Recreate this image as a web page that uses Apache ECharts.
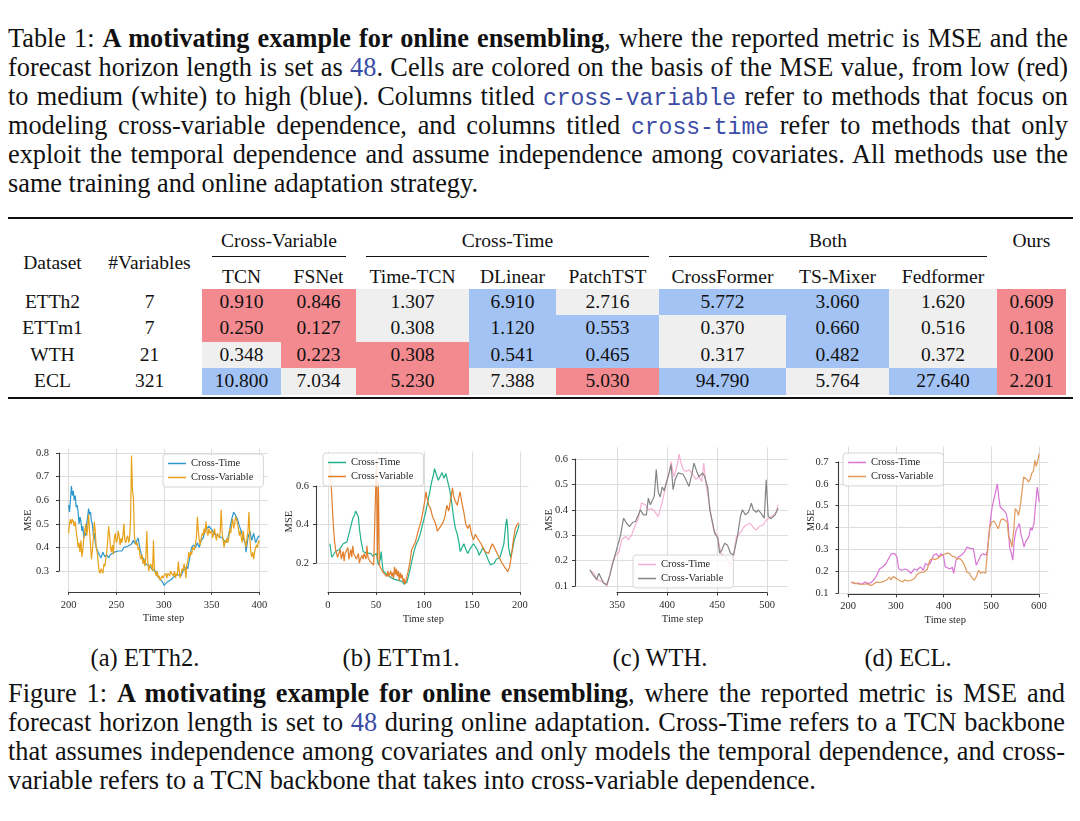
<!DOCTYPE html>
<html>
<head>
<meta charset="utf-8">
<script src="https://cdn.jsdelivr.net/npm/echarts@6.0.0/dist/echarts.min.js"></script>
<style>
  html, body { margin:0; padding:0; background:#fff; }
  body { position:relative; width:1080px; height:821px; overflow:hidden;
         font-family:'Liberation Serif','Times New Roman',serif; color:#111; }
  .cap { position:absolute; left:8px; font-size:26.3px; line-height:29px; }
  .cap div { text-align:justify; text-align-last:justify; height:29px; }
  .cap div.last { text-align-last:left; }
  .tt { font-family:'Liberation Mono','DejaVu Sans Mono',monospace; font-size:23px; color:#3a4ca5; }
  .ref { color:#3a4ca5; }
  .abs { position:absolute; white-space:nowrap; }
  .chart { position:absolute; }
  #table { font-size:19.5px; }
</style>
</head>
<body>
<div class="cap" style="top:24px;width:1060px">
  <div>Table 1: <b>A motivating example for online ensembling</b>, where the reported metric is MSE and the</div>
  <div>forecast horizon length is set as <span class="ref">48</span>. Cells are colored on the basis of the MSE value, from low (red)</div>
  <div>to medium (white) to high (blue). Columns titled <span class="tt">cross-variable</span> refer to methods that focus on</div>
  <div>modeling cross-variable dependence, and columns titled <span class="tt">cross-time</span> refer to methods that only</div>
  <div>exploit the temporal dependence and assume independence among covariates. All methods use the</div>
  <div class="last">same training and online adaptation strategy.</div>
</div>

<div id="table"></div>

<div id="chartA" class="chart"></div>
<div id="chartB" class="chart"></div>
<div id="chartC" class="chart"></div>
<div id="chartD" class="chart"></div>

<div id="subs"></div>

<div class="cap" style="top:678.5px;width:1057px">
  <div>Figure 1: <b>A motivating example for online ensembling</b>, where the reported metric is MSE and</div>
  <div>forecast horizon length is set to <span class="ref">48</span> during online adaptation. Cross-Time refers to a TCN backbone</div>
  <div>that assumes independence among covariates and only models the temporal dependence, and cross-</div>
  <div class="last">variable refers to a TCN backbone that takes into cross-variable dependence.</div>
</div>

<script>
// ---------------- TABLE DATA ----------------
const datasets = ['ETTh2', 'ETTm1', 'WTH', 'ECL'];
const numVariables = [7, 7, 21, 321];
const methodGroups = ['Cross-Variable', 'Cross-Time', 'Both'];
const groupSpans = [2, 3, 3];
const methods = ['TCN', 'FSNet', 'Time-TCN', 'DLinear', 'PatchTST', 'CrossFormer', 'TS-Mixer', 'Fedformer', 'Ours'];
const mseETTh2 = [0.910, 0.846, 1.307, 6.910, 2.716, 5.772, 3.060, 1.620, 0.609];
const mseETTm1 = [0.250, 0.127, 0.308, 1.120, 0.553, 0.370, 0.660, 0.516, 0.108];
const mseWTH   = [0.348, 0.223, 0.308, 0.541, 0.465, 0.317, 0.482, 0.372, 0.200];
const mseECL   = [10.800, 7.034, 5.230, 7.388, 5.030, 94.790, 5.764, 27.640, 2.201];
const levelETTh2 = ['low', 'low', 'mid', 'high', 'mid', 'high', 'high', 'mid', 'low'];
const levelETTm1 = ['low', 'low', 'mid', 'high', 'high', 'mid', 'high', 'mid', 'low'];
const levelWTH   = ['mid', 'low', 'low', 'high', 'high', 'mid', 'high', 'mid', 'low'];
const levelECL   = ['high', 'mid', 'low', 'mid', 'low', 'high', 'mid', 'high', 'low'];

// ---------------- CHART DATA ----------------
const subCaptions = ['(a) ETTh2.', '(b) ETTm1.', '(c) WTH.', '(d) ECL.'];
const seriesNames = ['Cross-Time', 'Cross-Variable'];

const etth2CrossTime = [[200,0.58],[201,0.55],[202,0.60],[203,0.66],[204,0.62],[205,0.64],[206,0.60],[207,0.62],[208,0.57],[209,0.58],[210,0.55],[211,0.50],[212,0.53],[213,0.51],[214,0.47],[215,0.49],[216,0.44],[217,0.46],[218,0.45],[219,0.50],[220,0.53],[221,0.565],[222,0.54],[223,0.55],[224,0.51],[225,0.50],[226,0.45],[227,0.46],[228,0.42],[229,0.40],[230,0.39],[232,0.37],[234,0.355],[236,0.38],[238,0.36],[240,0.37],[242,0.355],[244,0.37],[246,0.365],[248,0.38],[250,0.375],[252,0.385],[254,0.39],[256,0.385],[258,0.40],[260,0.40],[262,0.405],[264,0.41],[266,0.415],[268,0.43],[270,0.415],[272,0.41],[273,0.44],[275,0.39],[277,0.36],[279,0.35],[281,0.33],[283,0.325],[285,0.32],[287,0.31],[289,0.305],[291,0.30],[293,0.28],[295,0.27],[297,0.26],[299,0.25],[300,0.24],[302,0.245],[304,0.255],[306,0.25],[308,0.265],[310,0.275],[312,0.28],[314,0.285],[316,0.29],[318,0.28],[320,0.30],[322,0.31],[324,0.32],[325,0.31],[327,0.36],[329,0.40],[331,0.41],[333,0.40],[335,0.42],[337,0.40],[339,0.43],[341,0.44],[343,0.47],[345,0.48],[347,0.49],[349,0.485],[351,0.47],[353,0.455],[355,0.46],[357,0.45],[359,0.445],[361,0.44],[363,0.43],[365,0.42],[367,0.44],[369,0.48],[371,0.52],[373,0.55],[375,0.555],[377,0.52],[379,0.49],[381,0.47],[383,0.44],[385,0.42],[386,0.38],[388,0.44],[390,0.47],[392,0.43],[394,0.46],[396,0.42],[398,0.44],[400,0.45]];
const etth2CrossVariable = [[200,0.46],[201,0.50],[202,0.52],[203,0.50],[204,0.52],[205,0.51],[206,0.49],[207,0.51],[208,0.47],[209,0.44],[210,0.40],[211,0.42],[212,0.38],[213,0.43],[214,0.36],[215,0.39],[216,0.44],[217,0.47],[218,0.50],[219,0.45],[220,0.48],[221,0.54],[222,0.47],[223,0.41],[224,0.35],[225,0.39],[226,0.44],[227,0.51],[228,0.47],[229,0.40],[230,0.38],[231,0.34],[232,0.30],[233,0.29],[234,0.31],[235,0.30],[236,0.29],[237,0.33],[238,0.32],[239,0.35],[240,0.38],[241,0.43],[242,0.49],[243,0.45],[244,0.40],[245,0.38],[246,0.41],[247,0.37],[248,0.44],[249,0.46],[250,0.42],[251,0.43],[252,0.47],[253,0.45],[254,0.41],[255,0.44],[256,0.42],[257,0.45],[258,0.50],[259,0.43],[260,0.42],[261,0.44],[262,0.45],[263,0.42],[264,0.44],[265,0.52],[266,0.79],[267,0.64],[268,0.61],[269,0.45],[270,0.42],[271,0.41],[272,0.42],[273,0.39],[274,0.40],[275,0.36],[276,0.35],[277,0.37],[278,0.33],[279,0.35],[280,0.32],[281,0.36],[282,0.47],[283,0.34],[284,0.30],[285,0.32],[286,0.33],[287,0.32],[288,0.30],[289,0.43],[290,0.30],[291,0.29],[292,0.28],[293,0.30],[294,0.27],[295,0.28],[296,0.26],[297,0.27],[298,0.28],[299,0.27],[300,0.28],[302,0.29],[303,0.27],[304,0.29],[306,0.28],[307,0.30],[308,0.29],[310,0.28],[311,0.30],[312,0.27],[313,0.29],[314,0.28],[315,0.34],[316,0.30],[317,0.27],[318,0.29],[319,0.31],[320,0.30],[321,0.33],[322,0.31],[323,0.27],[324,0.33],[325,0.34],[326,0.38],[327,0.36],[328,0.38],[329,0.37],[330,0.40],[332,0.39],[333,0.42],[334,0.44],[335,0.53],[336,0.47],[337,0.43],[338,0.41],[339,0.44],[340,0.46],[341,0.45],[342,0.48],[343,0.46],[344,0.51],[345,0.47],[346,0.45],[347,0.48],[348,0.46],[350,0.47],[351,0.44],[352,0.46],[353,0.48],[354,0.45],[355,0.43],[356,0.46],[357,0.45],[358,0.44],[359,0.47],[360,0.56],[361,0.46],[362,0.43],[363,0.40],[364,0.43],[365,0.42],[366,0.44],[367,0.42],[368,0.44],[369,0.48],[370,0.46],[371,0.50],[372,0.52],[373,0.48],[374,0.50],[375,0.53],[376,0.52],[377,0.50],[378,0.48],[379,0.45],[380,0.47],[381,0.44],[382,0.42],[383,0.47],[384,0.44],[385,0.42],[386,0.40],[387,0.44],[388,0.47],[389,0.55],[390,0.44],[391,0.38],[392,0.36],[393,0.38],[394,0.35],[395,0.38],[396,0.40],[397,0.41],[398,0.40],[399,0.43],[400,0.42]];

const ettm1CrossTime = [[0,0.30],[2,0.23],[4,0.24],[6,0.26],[8,0.27],[10,0.27],[12,0.28],[14,0.30],[16,0.31],[18,0.31],[20,0.35],[22,0.39],[24,0.43],[26,0.45],[27,0.47],[28,0.48],[29,0.46],[30,0.44],[31,0.38],[33,0.31],[35,0.26],[37,0.26],[39,0.25],[41,0.26],[43,0.25],[45,0.235],[47,0.245],[49,0.25],[51,0.19],[53,0.22],[54,0.26],[55,0.20],[56,0.16],[58,0.15],[60,0.14],[62,0.13],[64,0.125],[66,0.12],[68,0.115],[70,0.11],[72,0.11],[74,0.105],[76,0.105],[78,0.09],[80,0.08],[81,0.10],[83,0.14],[85,0.18],[87,0.23],[89,0.27],[91,0.30],[93,0.32],[95,0.35],[97,0.39],[99,0.43],[101,0.47],[103,0.52],[105,0.57],[107,0.62],[109,0.66],[110,0.69],[112,0.66],[114,0.63],[116,0.65],[118,0.67],[120,0.64],[122,0.665],[124,0.66],[126,0.58],[128,0.52],[130,0.44],[132,0.38],[134,0.35],[136,0.30],[137,0.26],[139,0.28],[141,0.30],[143,0.27],[145,0.25],[147,0.27],[149,0.28],[151,0.30],[153,0.31],[155,0.27],[157,0.24],[159,0.26],[161,0.28],[163,0.26],[165,0.235],[167,0.21],[169,0.19],[171,0.185],[173,0.20],[175,0.22],[177,0.21],[179,0.23],[181,0.24],[183,0.30],[185,0.40],[186,0.43],[187,0.38],[188,0.28],[190,0.23],[192,0.27],[194,0.32],[196,0.35],[198,0.38],[199,0.40]];
const ettm1CrossVariable = [[0,0.72],[1,0.64],[2,0.55],[3,0.45],[4,0.37],[5,0.31],[6,0.27],[7,0.25],[8,0.23],[10,0.24],[11,0.27],[12,0.22],[14,0.26],[15,0.21],[16,0.25],[18,0.24],[19,0.28],[20,0.22],[22,0.27],[23,0.23],[24,0.29],[25,0.25],[26,0.26],[28,0.22],[29,0.21],[30,0.25],[31,0.20],[32,0.22],[33,0.21],[34,0.24],[35,0.22],[36,0.25],[38,0.22],[39,0.29],[40,0.23],[42,0.21],[44,0.20],[46,0.19],[48,0.18],[49,0.74],[50,0.22],[51,0.62],[52,0.19],[54,0.17],[56,0.15],[58,0.14],[60,0.13],[61,0.16],[62,0.13],[64,0.16],[65,0.13],[66,0.15],[67,0.12],[68,0.18],[69,0.14],[70,0.17],[71,0.13],[72,0.16],[73,0.11],[74,0.15],[75,0.12],[76,0.14],[77,0.10],[78,0.12],[79,0.09],[80,0.11],[82,0.15],[84,0.20],[86,0.27],[88,0.29],[90,0.31],[92,0.35],[94,0.36],[96,0.42],[98,0.47],[100,0.53],[101,0.57],[102,0.54],[104,0.50],[106,0.48],[108,0.44],[110,0.42],[112,0.39],[113,0.365],[115,0.38],[117,0.37],[119,0.41],[121,0.44],[123,0.50],[125,0.47],[127,0.53],[129,0.59],[130,0.55],[132,0.52],[134,0.50],[136,0.55],[137,0.57],[139,0.51],[141,0.46],[143,0.40],[145,0.38],[147,0.40],[149,0.35],[151,0.32],[153,0.35],[155,0.33],[157,0.34],[159,0.30],[161,0.28],[163,0.26],[165,0.27],[167,0.25],[169,0.28],[171,0.30],[173,0.28],[175,0.26],[177,0.24],[179,0.22],[181,0.20],[183,0.19],[185,0.17],[187,0.155],[189,0.18],[191,0.24],[193,0.32],[195,0.38],[197,0.40],[199,0.41]];

const wthCrossTime = [[321,0.163],[325,0.15],[328,0.124],[333,0.118],[337,0.11],[338,0.097],[340,0.125],[343,0.176],[347,0.222],[350,0.229],[353,0.282],[357,0.295],[360,0.282],[363,0.30],[367,0.34],[370,0.367],[373,0.426],[377,0.42],[380,0.40],[383,0.405],[386,0.395],[390,0.374],[392,0.38],[395,0.446],[398,0.505],[401,0.545],[403,0.59],[405,0.545],[406,0.53],[408,0.56],[410,0.59],[411,0.62],[413,0.585],[415,0.56],[418,0.551],[421,0.558],[425,0.538],[428,0.52],[431,0.53],[434,0.512],[436,0.584],[438,0.505],[441,0.44],[444,0.36],[446,0.32],[450,0.295],[453,0.23],[456,0.22],[459,0.21],[463,0.176],[466,0.22],[469,0.295],[473,0.31],[476,0.33],[479,0.34],[483,0.347],[486,0.33],[489,0.32],[492,0.335],[496,0.34],[499,0.36],[503,0.37],[507,0.38],[509,0.39],[511,0.42]];
const wthCrossVariable = [[321,0.163],[324,0.145],[326,0.138],[328,0.125],[330,0.15],[332,0.157],[335,0.11],[338,0.105],[341,0.14],[344,0.19],[347,0.229],[349,0.225],[352,0.30],[355,0.367],[358,0.347],[361,0.334],[364,0.35],[367,0.354],[370,0.38],[372,0.40],[375,0.38],[378,0.38],[380,0.446],[382,0.42],[384,0.425],[386,0.453],[388,0.558],[390,0.47],[392,0.45],[394,0.49],[396,0.475],[399,0.518],[401,0.545],[403,0.578],[405,0.479],[407,0.518],[410,0.545],[412,0.551],[415,0.54],[418,0.518],[421,0.492],[424,0.54],[426,0.584],[429,0.55],[431,0.53],[435,0.545],[437,0.53],[440,0.486],[442,0.40],[445,0.347],[447,0.308],[450,0.29],[452,0.229],[454,0.24],[457,0.268],[460,0.26],[463,0.229],[466,0.222],[470,0.295],[473,0.374],[475,0.40],[478,0.38],[481,0.39],[484,0.426],[486,0.40],[489,0.39],[491,0.40],[494,0.385],[497,0.367],[499,0.518],[501,0.374],[504,0.365],[508,0.38],[511,0.406]];

const eclCrossTime = [[200,0.15],[208,0.143],[215,0.145],[222,0.14],[229,0.15],[236,0.143],[242,0.148],[247,0.158],[254,0.18],[260,0.21],[267,0.22],[274,0.235],[279,0.257],[285,0.28],[292,0.28],[297,0.265],[301,0.21],[307,0.204],[314,0.21],[321,0.204],[327,0.19],[334,0.21],[340,0.204],[347,0.22],[353,0.204],[358,0.235],[363,0.228],[368,0.235],[375,0.273],[381,0.28],[386,0.265],[391,0.28],[396,0.273],[400,0.22],[404,0.228],[410,0.21],[415,0.218],[418,0.19],[423,0.25],[428,0.265],[434,0.273],[441,0.288],[446,0.31],[450,0.318],[455,0.303],[460,0.303],[466,0.227],[471,0.25],[476,0.273],[481,0.28],[487,0.273],[490,0.295],[494,0.387],[497,0.448],[500,0.494],[504,0.532],[507,0.54],[511,0.60],[514,0.54],[517,0.494],[520,0.50],[525,0.478],[530,0.463],[534,0.418],[537,0.31],[541,0.28],[544,0.25],[547,0.34],[551,0.387],[554,0.40],[558,0.418],[561,0.372],[565,0.34],[568,0.31],[571,0.333],[575,0.325],[578,0.357],[582,0.40],[585,0.387],[589,0.418],[592,0.494],[596,0.585],[598,0.555],[600,0.517]];
const eclCrossVariable = [[200,0.15],[206,0.145],[212,0.143],[218,0.14],[222,0.137],[228,0.14],[233,0.143],[238,0.137],[243,0.135],[248,0.142],[254,0.15],[259,0.148],[264,0.15],[269,0.153],[274,0.158],[278,0.165],[281,0.173],[284,0.16],[286,0.165],[289,0.175],[292,0.18],[295,0.168],[297,0.165],[302,0.158],[305,0.155],[309,0.15],[313,0.16],[316,0.16],[320,0.155],[323,0.15],[327,0.158],[330,0.158],[334,0.165],[337,0.173],[340,0.185],[344,0.19],[348,0.195],[351,0.19],[355,0.196],[358,0.196],[362,0.21],[365,0.235],[367,0.25],[372,0.257],[375,0.255],[379,0.253],[383,0.26],[386,0.262],[390,0.268],[393,0.273],[397,0.278],[400,0.28],[404,0.282],[407,0.283],[411,0.278],[414,0.27],[418,0.268],[421,0.265],[425,0.255],[428,0.25],[431,0.258],[436,0.247],[441,0.227],[446,0.196],[450,0.192],[452,0.19],[455,0.175],[458,0.17],[462,0.158],[465,0.17],[467,0.18],[471,0.204],[476,0.19],[481,0.196],[486,0.19],[490,0.196],[492,0.341],[495,0.402],[499,0.425],[504,0.43],[509,0.41],[513,0.394],[518,0.433],[523,0.44],[527,0.448],[532,0.425],[535,0.357],[539,0.341],[542,0.31],[546,0.387],[549,0.486],[553,0.475],[556,0.456],[560,0.50],[563,0.555],[567,0.631],[570,0.639],[574,0.62],[577,0.608],[581,0.62],[584,0.647],[588,0.66],[591,0.708],[594,0.68],[598,0.715],[600,0.738]];

// ---------------- TABLE LAYOUT ----------------
const CELL_COLORS = { low: '#f28a8f', mid: '#efefef', high: '#a3c3f4' };
const colEdges = [8, 97, 202, 281, 356, 469, 556, 659, 786, 889, 997, 1066];
const tableEl = document.getElementById('table');
function put(parent, html, x, y, w, h, css) {
  const d = document.createElement('div');
  d.className = 'abs';
  d.style.cssText = `left:${x}px;top:${y}px;width:${w}px;height:${h}px;line-height:${h}px;text-align:center;` + (css || '');
  d.innerHTML = html;
  parent.appendChild(d);
  return d;
}
function rule(parent, x0, x1, y, h) {
  const d = document.createElement('div');
  d.style.cssText = `position:absolute;left:${x0}px;top:${y}px;width:${x1 - x0}px;height:${h}px;background:#111;`;
  parent.appendChild(d);
}
rule(tableEl, 8, 1073, 217, 2);
rule(tableEl, 8, 1073, 397, 2);
put(tableEl, 'Dataset', colEdges[0], 250, colEdges[1] - colEdges[0], 26);
put(tableEl, '#Variables', colEdges[1], 250, colEdges[2] - colEdges[1], 26);
let gStart = 0;
methodGroups.forEach((g, gi) => {
  const x0 = colEdges[2 + gStart], x1 = colEdges[2 + gStart + groupSpans[gi]];
  put(tableEl, g, x0, 228, x1 - x0, 26);
  rule(tableEl, x0 + 10, x1 - 10, 256, 1);
  gStart += groupSpans[gi];
});
put(tableEl, methods[8], colEdges[10], 228, colEdges[11] - colEdges[10], 26);
for (let m = 0; m < 8; m++) {
  put(tableEl, methods[m], colEdges[2 + m], 263.5, colEdges[3 + m] - colEdges[2 + m], 26);
}
const mseRows = [mseETTh2, mseETTm1, mseWTH, mseECL];
const levelRows = [levelETTh2, levelETTm1, levelWTH, levelECL];
const ROW_TOP = 288.5, ROW_H = 26.5;
datasets.forEach((ds, r) => {
  const y = ROW_TOP + r * ROW_H;
  put(tableEl, ds, colEdges[0], y, colEdges[1] - colEdges[0], ROW_H);
  put(tableEl, String(numVariables[r]), colEdges[1], y, colEdges[2] - colEdges[1], ROW_H);
  mseRows[r].forEach((v, m) => {
    put(tableEl, v.toFixed(3), colEdges[2 + m], y, colEdges[3 + m] - colEdges[2 + m], ROW_H,
        `background:${CELL_COLORS[levelRows[r][m]]};`);
  });
});

// ---------------- SUB CAPTIONS ----------------
const subCenters = [145, 401, 660, 908];
const subsEl = document.getElementById('subs');
subCaptions.forEach((s, i) => put(subsEl, s, subCenters[i] - 80, 643, 160, 29, 'font-size:24.5px;'));

// ---------------- CHARTS ----------------
const panels = [
  { el: 'chartA', box: { left: 0, top: 435, width: 276, height: 205 },
    plot: { l: 59, r: 268, t: 448.8, b: 591.8 }, xlim: [190, 409], ylim: [0.212, 0.818],
    xt: [200, 400, 50], yt: [0.3, 0.8, 0.1], yOff: 0, xOff: 2, yLabelMargin: 10, xLabelMargin: 6,
    yNameGap: 25, xNameGap: 21, legend: { left: 163, top: 454 },
    data: [etth2CrossTime, etth2CrossVariable], colors: ['#2c97cd', '#e8a21a'] },
  { el: 'chartB', box: { left: 276, top: 435, width: 260, height: 205 },
    plot: { l: 316, r: 528.6, t: 451.4, b: 591.9 }, xlim: [-12.5, 209], ylim: [0.05, 0.78],
    xt: [0, 200, 50], yt: [0.2, 0.6, 0.2], yOff: 3, xOff: 2, yLabelMargin: 4, xLabelMargin: 6,
    yNameGap: 23, xNameGap: 22, legend: { left: 323, top: 453 },
    data: [ettm1CrossTime, ettm1CrossVariable], colors: ['#22b08b', '#e27d2a'] },
  { el: 'chartC', box: { left: 536, top: 435, width: 262, height: 205 },
    plot: { l: 575, r: 788, t: 447.3, b: 592.6 }, xlim: [308, 521], ylim: [0.074, 0.646],
    xt: [350, 500, 50], yt: [0.1, 0.6, 0.1], yOff: 3, xOff: 4, yLabelMargin: 4, xLabelMargin: 3,
    yNameGap: 22, xNameGap: 21, legend: { left: 633, top: 555 },
    data: [wthCrossTime, wthCrossVariable], colors: ['#f6b0d3', '#858585'] },
  { el: 'chartD', box: { left: 798, top: 435, width: 282, height: 205 },
    plot: { l: 838.5, r: 1048.5, t: 446.5, b: 594.3 }, xlim: [180, 620], ylim: [0.094, 0.771],
    xt: [200, 600, 100], yt: [0.1, 0.7, 0.1], yOff: 6, xOff: 3, yLabelMargin: 4, xLabelMargin: 3,
    yNameGap: 25, xNameGap: 20, legend: { left: 843, top: 453 },
    data: [eclCrossTime, eclCrossVariable], colors: ['#d874d6', '#df9a5c'] }
];

function drawPanel(P) {
  const el = document.getElementById(P.el);
  const bx = P.box;
  el.style.left = bx.left + 'px'; el.style.top = bx.top + 'px';
  el.style.width = bx.width + 'px'; el.style.height = bx.height + 'px';
  const chart = echarts.init(el, null, { renderer: 'canvas' });
  const L = P.plot.l - bx.left, R = P.plot.r - bx.left, T = P.plot.t - bx.top, B = P.plot.b - bx.top;
  const pw = R - L, ph = B - T;
  const xpx = v => L + (v - P.xlim[0]) / (P.xlim[1] - P.xlim[0]) * pw;
  const ypx = v => B - (v - P.ylim[0]) / (P.ylim[1] - P.ylim[0]) * ph;
  const hx0 = xpx(P.xt[0]), hx1 = xpx(P.xt[1]);
  const vyTop = ypx(P.yt[1]), vyBot = ypx(P.yt[0]);
  const font = { fontFamily: 'Liberation Serif', fontSize: 10.5, color: '#2b2b2b' };
  const gridLine = { show: true, lineStyle: { color: '#dddddd', width: 1.1 } };
  const spine = { show: true, lineStyle: { color: '#3a3a3a', width: 1.1 } };
  const tick = { show: true, length: 3, lineStyle: { color: '#3a3a3a', width: 1 } };
  const hidden = { axisLine: { show: false }, axisTick: { show: false }, axisLabel: { show: false }, splitLine: { show: false } };
  const option = {
    animation: false,
    grid: [
      { left: L, top: T, width: pw, height: ph },
      { left: L, top: vyTop, width: pw, height: vyBot - vyTop },
      { left: hx0, top: T, width: hx1 - hx0, height: ph }
    ],
    xAxis: [
      Object.assign({ gridIndex: 0, type: 'value', min: P.xlim[0], max: P.xlim[1], name: 'Time step',
        nameLocation: 'middle', nameGap: P.xNameGap, nameTextStyle: font }, hidden),
      Object.assign({ gridIndex: 1, type: 'value', min: 0, max: 1 }, hidden),
      { gridIndex: 2, type: 'value', min: P.xt[0], max: P.xt[1], interval: P.xt[2], position: 'bottom',
        offset: P.xOff, axisLine: spine, axisTick: tick,
        axisLabel: Object.assign({ margin: P.xLabelMargin }, font), splitLine: gridLine }
    ],
    yAxis: [
      Object.assign({ gridIndex: 0, type: 'value', min: P.ylim[0], max: P.ylim[1], name: 'MSE',
        nameLocation: 'middle', nameGap: P.yNameGap, nameTextStyle: font }, hidden),
      { gridIndex: 1, type: 'value', min: P.yt[0], max: P.yt[1], interval: P.yt[2], position: 'left',
        offset: P.yOff, axisLine: spine, axisTick: tick,
        axisLabel: Object.assign({ margin: P.yLabelMargin }, font), splitLine: gridLine },
      Object.assign({ gridIndex: 2, type: 'value', min: 0, max: 1 }, hidden)
    ],
    legend: {
      orient: 'vertical', left: P.legend.left - bx.left, top: P.legend.top - bx.top,
      icon: 'rect', itemWidth: 18, itemHeight: 1.5, itemGap: 3,
      backgroundColor: 'rgba(255,255,255,0.82)', borderColor: '#d6d6d6', borderWidth: 1, borderRadius: 3,
      padding: [4, 10, 4, 5],
      textStyle: { fontFamily: 'Liberation Serif', fontSize: 10.5, color: '#2b2b2b', lineHeight: 11 },
      data: seriesNames
    },
    series: seriesNames.map((n, i) => ({
      type: 'line', name: n, xAxisIndex: 0, yAxisIndex: 0, data: P.data[i],
      showSymbol: false, symbol: 'none', z: 3,
      lineStyle: { width: 1.2, color: P.colors[i] }, itemStyle: { color: P.colors[i] }
    }))
  };
  chart.setOption(option);
}
panels.forEach(drawPanel);
</script>
</body>
</html>
